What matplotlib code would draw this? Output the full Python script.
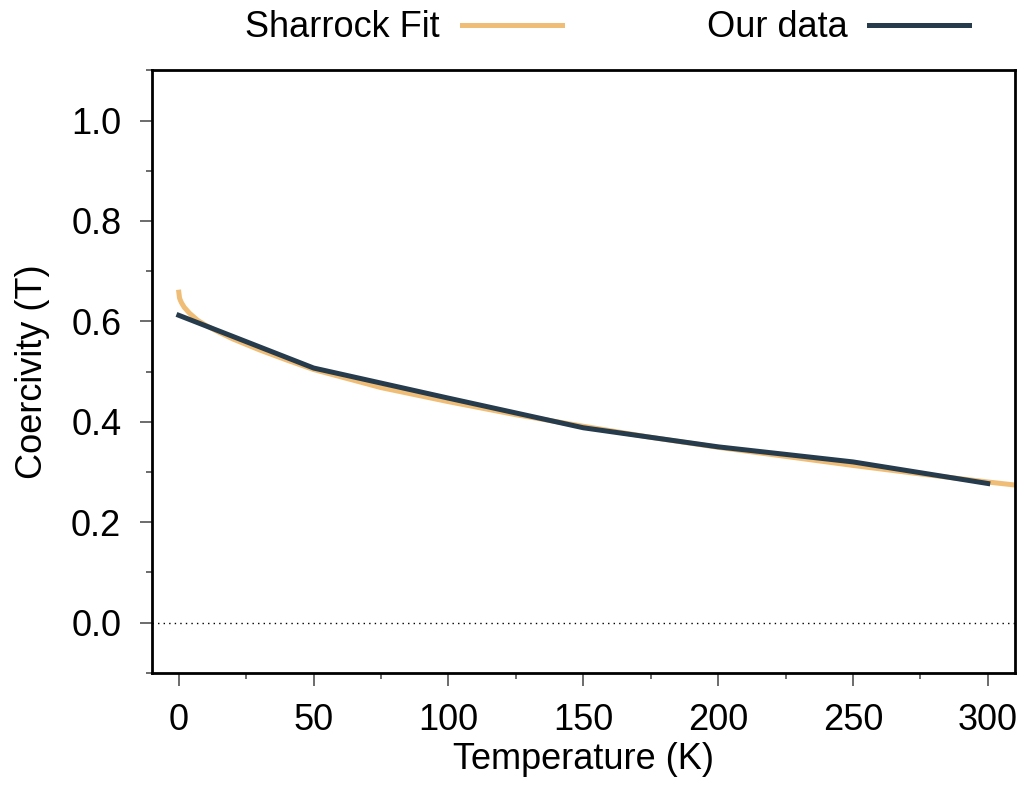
import matplotlib
matplotlib.use("Agg")
import matplotlib.pyplot as plt
from matplotlib.ticker import MultipleLocator

plt.rcParams['font.family'] = ['Liberation Sans', 'DejaVu Sans']

# Sharrock fit curve
fit_T = [0, 0.25, 0.5, 1, 2, 4, 7, 10, 15, 20, 30, 40, 50, 75, 100, 125, 150, 175, 200, 225, 250, 275, 300, 310]
fit_H = [0.658, 0.647, 0.643, 0.637, 0.628, 0.616, 0.602, 0.592, 0.578, 0.565, 0.543, 0.523, 0.504, 0.468,
         0.440, 0.414, 0.391, 0.369, 0.349, 0.331, 0.313, 0.296, 0.280, 0.274]

# Measured data
data_T = [0, 50, 100, 150, 200, 250, 300]
data_H = [0.612, 0.507, 0.447, 0.388, 0.350, 0.320, 0.277]

FS = 26

fig = plt.figure(figsize=(10.26, 7.99), dpi=100)
ax = fig.add_axes([0.148, 0.158, 0.841, 0.754])

ax.axhline(0, color='black', linestyle=(0, (1, 3)), linewidth=1.0, zorder=1)
ax.plot(fit_T, fit_H, color='#EFBD76', linewidth=3.6, label='Sharrock Fit', zorder=2)
ax.plot(data_T, data_H, color='#263B4C', linewidth=3.6, label='Our data', zorder=3)

ax.set_xlim(-10, 310)
ax.set_ylim(-0.1, 1.1)
ax.xaxis.set_major_locator(MultipleLocator(50))
ax.xaxis.set_minor_locator(MultipleLocator(25))
ax.yaxis.set_minor_locator(MultipleLocator(0.1))
ax.set_yticks([0.0, 0.2, 0.4, 0.6, 0.8, 1.0])
ax.set_yticklabels(['0.0', '0.2', '0.4', '0.6', '0.8', '1.0'])

ax.tick_params(axis='both', which='major', length=9, width=1.1, color='#444444',
               labelsize=FS, pad=13, direction='out')
ax.tick_params(axis='both', which='minor', length=4.5, width=1.1, color='#444444', direction='out')

for s in ax.spines.values():
    s.set_linewidth(2.0)
    s.set_color('black')

ax.set_xlabel('Temperature (K)', fontsize=FS, labelpad=3)
ax.set_ylabel('Coercivity (T)', fontsize=FS, labelpad=15)

ax.legend(loc='center', bbox_to_anchor=(0.592, 0.965), bbox_transform=fig.transFigure,
          ncol=2, frameon=False, markerfirst=False, fontsize=FS, handlelength=2.78,
          handletextpad=0.6, columnspacing=4.0, borderaxespad=0.0, borderpad=0.0)

fig.savefig('out.png', dpi=100)
